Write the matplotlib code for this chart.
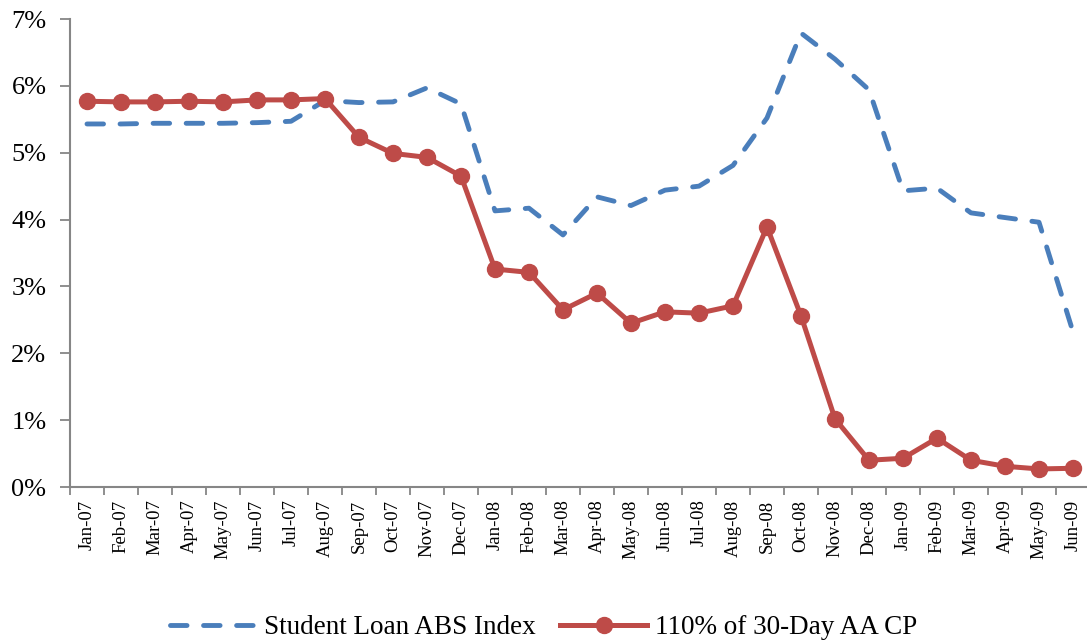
import numpy as np
import matplotlib.pyplot as plt
from matplotlib.ticker import FuncFormatter, FixedLocator

months = ['Jan-07', 'Feb-07', 'Mar-07', 'Apr-07', 'May-07', 'Jun-07', 'Jul-07', 'Aug-07',
          'Sep-07', 'Oct-07', 'Nov-07', 'Dec-07', 'Jan-08', 'Feb-08', 'Mar-08', 'Apr-08',
          'May-08', 'Jun-08', 'Jul-08', 'Aug-08', 'Sep-08', 'Oct-08', 'Nov-08', 'Dec-08',
          'Jan-09', 'Feb-09', 'Mar-09', 'Apr-09', 'May-09', 'Jun-09']

abs_index = [5.43, 5.43, 5.44, 5.44, 5.44, 5.45, 5.47, 5.78, 5.75, 5.76, 5.97, 5.73,
             4.13, 4.17, 3.77, 4.34, 4.21, 4.44, 4.50, 4.81, 5.52, 6.79, 6.40, 5.94,
             4.43, 4.47, 4.10, 4.03, 3.96, 2.32]

aa_cp = [5.77, 5.76, 5.76, 5.77, 5.76, 5.79, 5.79, 5.81, 5.23, 4.99, 4.93, 4.65,
         3.26, 3.21, 2.65, 2.90, 2.45, 2.62, 2.60, 2.71, 3.89, 2.56, 1.02, 0.40,
         0.43, 0.73, 0.40, 0.31, 0.27, 0.28]

blue = '#4A7EBB'
red = '#BE4B48'
grey = '#868686'

plt.rcParams['font.family'] = ['Liberation Serif', 'DejaVu Serif']

fig = plt.figure(figsize=(10.87, 6.42), dpi=100)
ax = fig.add_axes([70 / 1087, 1 - 487 / 642, 1020 / 1087, (487 - 19) / 642])

x = np.arange(len(months))
ax.plot(x, abs_index, color=blue, lw=3.5, dashes=(3.4, 3.4), dash_capstyle='round',
        label='Student Loan ABS Index', clip_on=False, zorder=3)
ax.plot(x, aa_cp, color=red, lw=3.6, marker='o', markersize=11.5,
        label='110% of 30-Day AA CP', clip_on=False, zorder=4)

ax.set_xlim(-0.5, len(months) - 0.5)
ax.set_ylim(0, 7)
ax.set_yticks(np.arange(0, 8, 1))
ax.yaxis.set_major_formatter(FuncFormatter(lambda v, p: '%d%%' % v))

ax.set_xticks(x)
ax.set_xticklabels(months, rotation=90, fontsize=13.5)
ax.xaxis.set_minor_locator(FixedLocator(np.arange(-0.5, len(months), 1)))
ax.tick_params(axis='x', which='major', length=0, pad=9)
ax.tick_params(axis='x', which='minor', length=6, color=grey, width=1.3)
ax.tick_params(axis='y', length=7, color=grey, width=1.3, labelsize=19, pad=10)

for s in ['top', 'right']:
    ax.spines[s].set_visible(False)
for s in ['left', 'bottom']:
    ax.spines[s].set_color(grey)
    ax.spines[s].set_linewidth(1.5)

fig.legend(loc='lower center', bbox_to_anchor=(0.5, -0.035), ncol=2, frameon=False,
           fontsize=19.5, handlelength=3.2, columnspacing=0.9, handletextpad=0.3)

fig.savefig('out.png', dpi=100)
